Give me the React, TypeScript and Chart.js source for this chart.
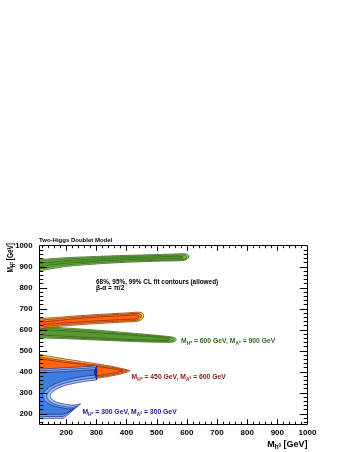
import React, { useEffect, useRef } from 'react';
import { Chart, registerables } from 'chart.js';

Chart.register(...registerables);

// ---------- axes ----------
const X_MIN = 110;
const X_MAX = 1000;
const Y_MIN = 150;
const Y_MAX = 1000;
const xTickValues = [200, 300, 400, 500, 600, 700, 800, 900, 1000];
const yTickValues = [200, 300, 400, 500, 600, 700, 800, 900, 1000];

// ---------- contours: [M_h0, M_H±] ----------
type Pt = [number, number];

// M_H± = 600, M_A = 900 : upper green band
const greenUpper99: Pt[] = [[100,932],[200,942],[300,948],[400,953],[500,957],[570,960],[590,961],[602,958],[607,950],[605,940],[597,932],[585,928],[500,925],[400,920],[300,912],[200,900],[100,877]];
const greenUpper95: Pt[] = [[100,925],[200,936],[300,943],[400,948],[500,952],[570,955],[588,955],[597,952],[600,946],[598,939],[591,934],[580,931],[500,929],[400,925],[300,918],[200,907],[100,886]];
const greenUpper68: Pt[] = [[100,914],[200,928],[300,936],[400,942],[500,946],[565,949],[580,948],[587,945],[587,941],[581,938],[565,937],[500,936],[400,932],[300,925],[200,915],[100,897]];
// lower green band
const greenLower99: Pt[] = [[100,616],[200,607],[300,597],[400,585],[480,575],[530,568],[552,564],[563,558],[565,550],[559,542],[545,539],[480,540],[400,544],[300,550],[200,556],[100,560]];
const greenLower95: Pt[] = [[100,610],[200,601],[300,592],[400,580],[480,571],[530,564],[548,560],[556,555],[557,549],[551,544],[540,543],[480,544],[400,548],[300,554],[200,561],[100,566]];
const greenLower68: Pt[] = [[100,601],[200,594],[300,585],[400,575],[480,566],[525,560],[538,557],[543,553],[540,549],[530,548],[480,549],[400,553],[300,560],[200,567],[100,575]];

// M_H± = 450, M_A = 600 : upper orange band
const orangeUpper99: Pt[] = [[100,650],[200,661],[300,671],[400,679],[430,682],[445,682],[454,677],[457,667],[454,654],[445,643],[430,638],[400,636],[300,628],[200,618],[100,603]];
const orangeUpper95: Pt[] = [[100,643],[200,655],[300,666],[400,674],[428,677],[441,676],[448,671],[450,665],[447,655],[440,647],[428,643],[400,641],[300,634],[200,624],[100,610]];
const orangeUpper68: Pt[] = [[100,633],[200,647],[300,659],[400,667],[425,670],[435,669],[440,665],[441,660],[438,655],[432,651],[422,649],[400,648],[300,641],[200,632],[100,620]];
// lower orange band
const orangeLower99: Pt[] = [[100,484],[150,471],[200,459],[250,448],[300,437],[350,425],[385,414],[402,408],[412,404],[403,398],[380,388],[340,376],[300,367],[250,372],[200,380],[100,392]];
const orangeLower95: Pt[] = [[100,473],[150,461],[200,450],[250,440],[300,431],[350,420],[382,411],[398,406],[403,404],[397,400],[378,392],[340,381],[300,373],[250,378],[200,386],[100,398]];
const orangeLower68: Pt[] = [[100,463],[150,453],[200,443],[250,434],[300,425],[345,415],[375,408],[386,405],[389,403],[383,401],[370,397],[340,388],[300,380],[250,385],[200,392],[100,404]];

// M_H± = 300, M_A = 300 : blue region
const blue99: Pt[] = [[100,411],[150,414],[200,418],[250,422],[301,427],[301,360],[280,357],[257,352],[230,345],[202,336],[180,325],[163,312],[152,300],[146,288],[148,276],[155,264],[166,255],[180,249],[200,243],[218,240],[233,241],[248,246],[220,212],[192,177],[150,177],[100,177]];
const blue95: Pt[] = [[100,403],[150,406],[200,410],[250,414],[298,419],[298,370],[278,367],[254,362],[225,355],[196,345],[172,333],[154,319],[142,304],[135,288],[137,272],[145,258],[157,248],[172,240],[193,233],[212,230],[226,231],[238,235],[214,210],[190,186],[150,186],[100,186]];
const blue68: Pt[] = [[100,393],[150,396],[200,400],[250,404],[295,409],[295,383],[275,380],[250,375],[220,367],[190,356],[164,342],[144,326],[130,308],[122,290],[124,272],[132,257],[144,245],[160,236],[182,228],[202,223],[216,222],[226,224],[210,209],[188,196],[150,196],[100,196]];

// ---------- styles ----------
const FONT = "'Liberation Sans', Arial, Helvetica, sans-serif";
const GREEN_FILLS = ['#a2cf68', '#78b446', '#579830'];
const ORANGE_FILLS = ['#ffdf2e', '#ff7d1c', '#ff6511'];
const BLUE_FILLS = ['#a9c8f6', '#77a4ec', '#3e7cdd'];

const bands = [
  { contours: [greenUpper99, greenUpper95, greenUpper68], fills: GREEN_FILLS, line: '#285a14', tension: 0.25 },
  { contours: [greenLower99, greenLower95, greenLower68], fills: GREEN_FILLS, line: '#285a14', tension: 0.25 },
  { contours: [orangeUpper99, orangeUpper95, orangeUpper68], fills: ORANGE_FILLS, line: '#8a1a12', tension: 0.25 },
  { contours: [orangeLower99, orangeLower95, orangeLower68], fills: ORANGE_FILLS, line: '#8a1a12', tension: 0.1 },
  { contours: [blue99, blue95, blue68], fills: BLUE_FILLS, line: '#1c2a8a', tension: 0 },
];

type Part = [string, number, number];
const labelGreen: Part[] = [['M',1,0],['H',0.7,0.3],['±',0.5,0.02],[' = 600 GeV, ',1,0],['M',1,0],['A',0.7,0.3],['0',0.5,0.02],[' = 900 GeV',1,0]];
const labelRed: Part[] = [['M',1,0],['H',0.7,0.3],['±',0.5,0.02],[' = 450 GeV, ',1,0],['M',1,0],['A',0.7,0.3],['0',0.5,0.02],[' = 600 GeV',1,0]];
const labelBlue: Part[] = [['M',1,0],['H',0.7,0.3],['±',0.5,0.02],[' = 300 GeV, ',1,0],['M',1,0],['A',0.7,0.3],['0',0.5,0.02],[' = 300 GeV',1,0]];
const xTitle: Part[] = [['M',1,0],['h',0.7,0.3],['0',0.5,0.02],[' [GeV]',1,0]];
const yTitle: Part[] = [['M',1,0],['H',0.7,0.3],['±',0.5,0.02],[' [GeV]',1,0]];

const annotations = [
  { parts: [['68%, 95%, 99% CL fit contours (allowed)',1,0]] as Part[], x: 299, y: 817, size: 6.4, color: '#000' },
  { parts: [['β-α = π/2',1,0]] as Part[], x: 299, y: 786, size: 6.6, color: '#000' },
  { parts: labelGreen, x: 581, y: 534, size: 6.8, color: '#2f6e1e' },
  { parts: labelRed, x: 417, y: 364, size: 6.8, color: '#8b1616' },
  { parts: labelBlue, x: 254, y: 198, size: 6.8, color: '#1c1c82' },
];

function measureRich(ctx: CanvasRenderingContext2D, parts: Part[], size: number) {
  let w = 0;
  for (const [t, sc] of parts) {
    ctx.font = `bold ${size * sc}px ${FONT}`;
    w += ctx.measureText(t).width;
  }
  return w;
}

function drawRich(ctx: CanvasRenderingContext2D, parts: Part[], x: number, y: number, size: number, color: string) {
  let cx = x;
  ctx.fillStyle = color;
  ctx.textAlign = 'left';
  ctx.textBaseline = 'alphabetic';
  for (const [t, sc, dy] of parts) {
    ctx.font = `bold ${size * sc}px ${FONT}`;
    ctx.fillText(t, cx, y + dy * size);
    cx += ctx.measureText(t).width;
  }
}

const decorPlugin = {
  id: 'decor',
  afterDatasetsDraw(chart: any) {
    const { ctx, chartArea: a, scales } = chart;
    const xs = scales.x;
    const ys = scales.y;
    ctx.save();
    const L = Math.floor(a.left) + 0.5;
    const R = Math.floor(a.right) + 0.5;
    const T = Math.floor(a.top) + 0.5;
    const B = Math.floor(a.bottom) + 0.5;
    ctx.strokeStyle = '#000';
    ctx.lineWidth = 1;
    ctx.beginPath();
    ctx.rect(L, T, R - L, B - T);
    ctx.stroke();
    // ticks (inside frame, all sides)
    ctx.beginPath();
    for (let v = Math.ceil(X_MIN / 20) * 20; v < X_MAX; v += 20) {
      const px = Math.round(xs.getPixelForValue(v)) + 0.5;
      const len = v % 100 === 0 ? 5.3 : 2.7;
      ctx.moveTo(px, B); ctx.lineTo(px, B - len);
      ctx.moveTo(px, T); ctx.lineTo(px, T + len);
    }
    for (let v = Math.ceil(Y_MIN / 20) * 20; v < Y_MAX; v += 20) {
      const py = Math.round(ys.getPixelForValue(v)) + 0.5;
      const len = v % 100 === 0 ? 7.7 : 3.8;
      ctx.moveTo(L, py); ctx.lineTo(L + len, py);
      ctx.moveTo(R, py); ctx.lineTo(R - len, py);
    }
    ctx.stroke();

    // annotations
    for (const an of annotations) {
      drawRich(ctx, an.parts, xs.getPixelForValue(an.x), ys.getPixelForValue(an.y), an.size, an.color);
    }
    // plot title
    drawRich(ctx, [['Two-Higgs Doublet Model', 1, 0]], a.left, a.top - 3.5, 6, '#000');
    // x title, right aligned
    const xw = measureRich(ctx, xTitle, 9);
    drawRich(ctx, xTitle, a.right - xw, 446.7, 9, '#000');
    // y title, rotated, compressed along its length
    const yw = measureRich(ctx, yTitle, 9);
    const comp = 0.72;
    ctx.save();
    ctx.translate(12.5, 243 + yw * comp);
    ctx.rotate(-Math.PI / 2);
    ctx.scale(comp, 1);
    drawRich(ctx, yTitle, 0, 0, 9, '#000');
    ctx.restore();
    ctx.restore();
  },
};

export default function App() {
  const ref = useRef<HTMLCanvasElement | null>(null);
  useEffect(() => {
    if (!ref.current) return;
    const datasets: any[] = [];
    let order = 0;
    for (const band of bands) {
      band.contours.forEach((c, i) => {
        datasets.push({
          data: c.map(([x, y]) => ({ x, y })),
          backgroundColor: band.fills[i],
          borderColor: band.line,
          borderWidth: 0.7,
          fill: 'shape',
          pointRadius: 0,
          pointHoverRadius: 0,
          tension: band.tension,
          capBezierPoints: false,
          order: -order,
        });
        order++;
      });
    }
    const chart = new Chart(ref.current, {
      type: 'line',
      data: { datasets },
      plugins: [decorPlugin],
      options: {
        responsive: false,
        animation: false,
        events: [],
        layout: { padding: { left: 0, right: 42.5, top: 245.5, bottom: 0 } },
        plugins: { legend: { display: false }, tooltip: { enabled: false } },
        scales: {
          x: {
            type: 'linear',
            position: 'bottom',
            min: X_MIN,
            max: X_MAX,
            afterBuildTicks: (s: any) => { s.ticks = xTickValues.map((v) => ({ value: v })); },
            afterFit: (s: any) => { s.height = 28; s.paddingLeft = 0; s.paddingRight = 0; },
            ticks: {
              autoSkip: false,
              maxRotation: 0,
              padding: 3.8,
              color: '#000',
              font: { family: FONT, weight: 'bold', size: 8 },
              callback: (v: any) => String(v),
            },
            grid: { display: false, drawTicks: false },
            border: { display: false },
          },
          y: {
            type: 'linear',
            min: Y_MIN,
            max: Y_MAX,
            afterBuildTicks: (s: any) => { s.ticks = yTickValues.map((v) => ({ value: v })); },
            afterFit: (s: any) => { s.width = 39; s.paddingTop = 0; s.paddingBottom = 0; },
            ticks: {
              autoSkip: false,
              padding: 6.5,
              color: '#000',
              font: { family: FONT, weight: 'bold', size: 7.8 },
              callback: (v: any) => String(v),
            },
            grid: { display: false, drawTicks: false },
            border: { display: false },
          },
        },
      } as any,
    });
    return () => chart.destroy();
  }, []);
  return (
    <div style={{ position: 'fixed', left: 0, top: 0, width: 350, height: 452, background: '#fff' }}>
      <canvas ref={ref} width={350} height={452} style={{ width: 350, height: 452 }} />
    </div>
  );
}
